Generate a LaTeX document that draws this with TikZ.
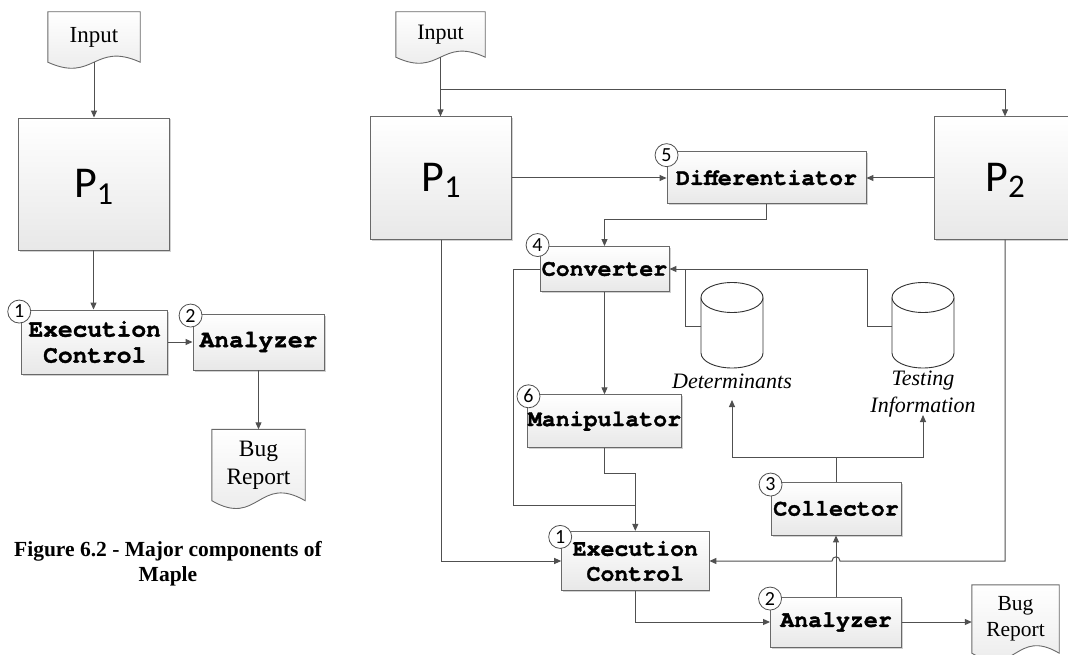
\documentclass[tikz,border=0pt]{standalone}
\usepackage{fontspec}
\setmainfont{Liberation Serif}
\newfontfamily\cour[FakeBold=1.4]{texgyrecursor-bold.otf}
\newfontfamily\calib{Carlito}
\usetikzlibrary{calc,arrows.meta,shadows,backgrounds}
\definecolor{lc}{RGB}{80,80,80}
\definecolor{bc}{RGB}{105,105,105}
\definecolor{bot}{RGB}{232,232,232}
\newcommand\mydoc[2]{%
  \shadedraw[docfill] (#1.north west) -- (#1.north east) -- (#1.south east)
    .. controls ($(#1.south)+(0,-#2)$) and ($(#1.south)+(0,#2)$) .. (#1.south west) -- cycle;}
\begin{document}
\begin{tikzpicture}[x=1pt,y=-1pt,
  conn/.style={draw=lc, line width=1pt},
  arr/.style={conn, -{Triangle[length=7pt,width=6pt]}},
  box/.style={rectangle, draw=bc, line width=0.9pt, top color=white, bottom color=bot,
    drop shadow={shadow xshift=1.5pt,shadow yshift=-1.5pt,opacity=0.18,fill=black},
    inner sep=0pt, align=center},
  boxL/.style={box, font=\cour\fontsize{24.5}{26}\selectfont},
  boxR/.style={box, font=\cour\fontsize{23.2}{25}\selectfont},
  num/.style={circle, draw=lc, fill=white, line width=0.8pt, minimum size=23pt,
    inner sep=0pt, font=\calib\fontsize{20}{20}\selectfont},
  docnode/.style={rectangle, inner sep=0pt, align=center},
  docfill/.style={draw=bc, line width=0.9pt, top color=white, bottom color=bot},
  cyl/.style={draw=black!80, line width=0.9pt, fill=white},
  lab/.style={font=\itshape\fontsize{22}{27}\selectfont, align=center, inner sep=0pt},
  pfont/.style={anchor=base, font=\calib, inner sep=0pt}
]
\useasboundingbox (0,0) rectangle (1068,655);
\clip (0,0) rectangle (1068,655);

% ---------------- left diagram ----------------
\node[docnode, minimum width=92pt, minimum height=50pt, font=\fontsize{23}{25}\selectfont] (inL) at (94,37) {Input};
\node[box, minimum width=151pt, minimum height=132pt] (P1L) at (93.5,184) {};
\node[pfont] (P1Lt) at ($(P1L.center)+(0,14)$) {\fontsize{44}{44}\selectfont P\raisebox{-6pt}{\fontsize{32}{32}\selectfont 1}};
\node[boxL, minimum width=146pt, minimum height=64pt] (exL) at (94.7,342) {Execution\\Control};
\node[boxL, minimum width=131pt, minimum height=56pt] (anL) at (258.5,342) {Analyzer};
\node[docnode, minimum width=93pt, minimum height=71pt, font=\fontsize{23.5}{28}\selectfont] (bugL) at (258.5,465) {Bug\\Report};
\node[num] (n1L) at ($(exL.north west)+(-2,2)$) {1};
\node[num] (n2L) at ($(anL.north west)+(-2,2)$) {2};
\node[font=\bfseries\fontsize{21.5}{25}\selectfont, align=center, inner sep=0pt] (cap) at (168,564) {Figure 6.2 - Major components of\\Maple};

\draw[arr] (inL.south) -- (inL.south |- P1L.north);
\draw[arr] (P1L.south) -- (P1L.south |- exL.north);
\draw[arr] (exL.east) -- (exL.east -| anL.west);
\draw[arr] (anL.south) -- (anL.south |- bugL.north);

% ---------------- right diagram ----------------
\node[docnode, minimum width=89pt, minimum height=45pt, font=\fontsize{22}{24}\selectfont] (inR) at (440.5,34.5) {Input};
\node[box, minimum width=141.7pt, minimum height=122.3pt] (P1R) at (441,178) {};
\node[pfont] (P1Rt) at ($(P1R.center)+(0,13.7)$) {\fontsize{44}{44}\selectfont P\raisebox{-5.7pt}{\fontsize{32}{32}\selectfont 1}};
\node[box, minimum width=141.7pt, minimum height=122.3pt] (P2R) at (1005,178) {};
\node[pfont] (P2Rt) at ($(P2R.center)+(0,13.7)$) {\fontsize{44}{44}\selectfont P\raisebox{-5.5pt}{\fontsize{33}{33}\selectfont 2}};
\node[boxR, minimum width=199pt, minimum height=52pt] (dif) at (766.5,177.6) {Differentiator};
\node[boxR, minimum width=129pt, minimum height=45pt] (conv) at (604.5,269) {Converter};
\node[boxR, minimum width=153pt, minimum height=52.5pt] (man) at (604.5,421) {Manipulator};
\node[boxR, minimum width=130pt, minimum height=53pt] (coll) at (836,508.5) {Collector};
\node[boxR, minimum width=147.3pt, minimum height=59.3pt] (exR) at (635.3,561) {Execution\\Control};
\node[boxR, minimum width=131pt, minimum height=50pt] (anR) at (836,622) {Analyzer};
\node[docnode, minimum width=87pt, minimum height=68pt, font=\fontsize{21.5}{26}\selectfont] (bugR) at (1015.5,619) {Bug\\Report};

\node[num] (n5) at ($(dif.north west)+(0,4)$) {5};
\node[num] (n4) at ($(conv.north west)+(-2,-1)$) {4};
\node[num] (n6) at ($(man.north west)+(1,2)$) {6};
\node[num] (n3) at ($(coll.north west)+(0,3)$) {3};
\node[num] (n1R) at ($(exR.north west)+(-1,6)$) {1};
\node[num] (n2R) at ($(anR.north west)+(0,2)$) {2};

% cylinders
\draw[cyl] (701,297.5) -- (701,353) arc[start angle=180,end angle=360,x radius=31pt,y radius=15pt] -- (763,297.5);
\draw[cyl] (732,297.5) ellipse[x radius=31pt,y radius=15pt];
\draw[cyl] (892,297.5) -- (892,353) arc[start angle=180,end angle=360,x radius=31pt,y radius=15pt] -- (954,297.5);
\draw[cyl] (923,297.5) ellipse[x radius=31pt,y radius=15pt];
\coordinate (detL) at (701,326);
\coordinate (tstL) at (892,326);
\node[lab] (detlab) at (732,381) {Determinants};
\node[lab] (tstlab) at (923,394) {Testing\\Information};
\coordinate (detin) at (732,400);
\coordinate (tstin) at (923,415);

% connectors
\draw[arr] (inR.south) -- (inR.south |- P1R.north);
\coordinate (j1) at (inR.south |- 0,90);
\draw[arr] (j1) -| (P2R.north);
\draw[arr] (P1R.east) -- (P1R.east -| dif.west);
\draw[arr] (P2R.west) -- (P2R.west -| dif.east);
\draw[arr] (dif.south) -- (dif.south |- 0,220) -| (conv.north);
\draw[arr] (conv.south) -- (man.north);
\draw[conn] (conv.west) -- (513,269) -- (513,505) -- (exR.north |- 0,505);
\draw[arr] (man.south) -- (man.south |- 0,473) -| (exR.north);
\draw[arr] (tstL) -- (867,326) -- (867,269) -- (conv.east);
\draw[conn] (detL) -- (685,326) -- (685,269);
\draw[arr] (P1R.south) |- (exR.west);
\draw[arr] (P2R.south) -- (P2R.south |- exR.east) -- (840,561)
   .. controls (840,555.5) and (832,555.5) .. (832,561) -- (exR.east);
\draw[arr] (exR.south) |- (anR.west);
\draw[arr] (anR.north) -- (coll.south);
\coordinate (j2) at (coll.north |- 0,457);
\draw[arr] (coll.north) -- (j2) -| (detin);
\draw[arr] (j2) -| (tstin);
\draw[arr] (anR.east) -- (anR.east -| bugR.west);

% document shapes
\begin{scope}[on background layer]
  \mydoc{inL}{21}
  \mydoc{bugL}{27}
  \mydoc{inR}{21}
  \mydoc{bugR}{26}
\end{scope}
\end{tikzpicture}
\end{document}
